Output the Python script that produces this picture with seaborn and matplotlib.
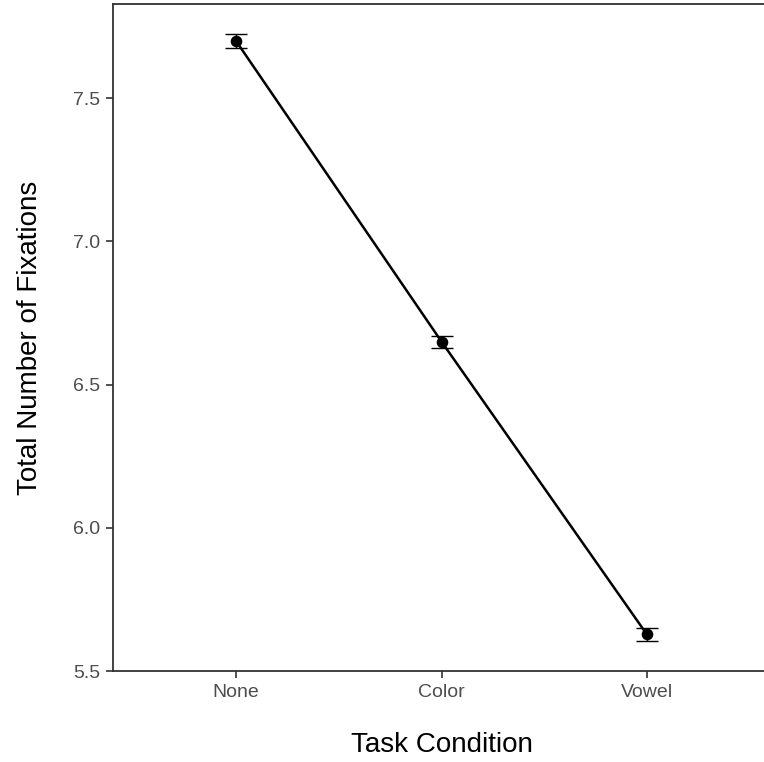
import matplotlib
matplotlib.use("Agg")
import matplotlib.pyplot as plt
import seaborn as sns
import pandas as pd

# Mean fixation counts per task condition with standard errors
conditions = ["None", "Color", "Vowel"]
mean_fixations = [7.699, 6.650, 5.628]
se_fixations = [0.024, 0.021, 0.023]
y_ticks = [5.5, 6.0, 6.5, 7.0, 7.5]

df = pd.DataFrame({"condition": conditions, "fixations": mean_fixations, "se": se_fixations})

sns.set_theme(style="ticks")
plt.rcParams["font.family"] = ["Liberation Sans", "DejaVu Sans"]

fig = plt.figure(figsize=(7.64, 7.62), dpi=100)
ax = fig.add_axes([0.1479, 0.1194, 0.86, 0.8754])

sns.pointplot(data=df, x="condition", y="fixations", order=conditions,
              color="black", errorbar=None, markers="o", markersize=7,
              linewidth=1.8, ax=ax)
ax.errorbar(x=range(len(conditions)), y=df["fixations"], yerr=df["se"],
            fmt="none", ecolor="black", elinewidth=1.0, capsize=7.8,
            capthick=1.0, zorder=1)

ax.set_xlim(-0.6, 2.6)
ax.set_ylim(5.5, 7.829)
ax.set_yticks(y_ticks)
ax.set_yticklabels([f"{v:.1f}" for v in y_ticks])

for side in ["left", "bottom", "top"]:
    ax.spines[side].set_color("#333333")
    ax.spines[side].set_linewidth(1.3)
ax.spines["right"].set_visible(False)

ax.tick_params(axis="both", colors="#333333", length=5, width=1.2,
               labelsize=14, labelcolor="#4D4D4D", pad=4)

ax.set_xlabel("Task Condition", fontsize=20, color="black", labelpad=23)
ax.set_ylabel("Total Number of Fixations", fontsize=20, color="black", labelpad=22)

fig.savefig("out.png", dpi=100)
